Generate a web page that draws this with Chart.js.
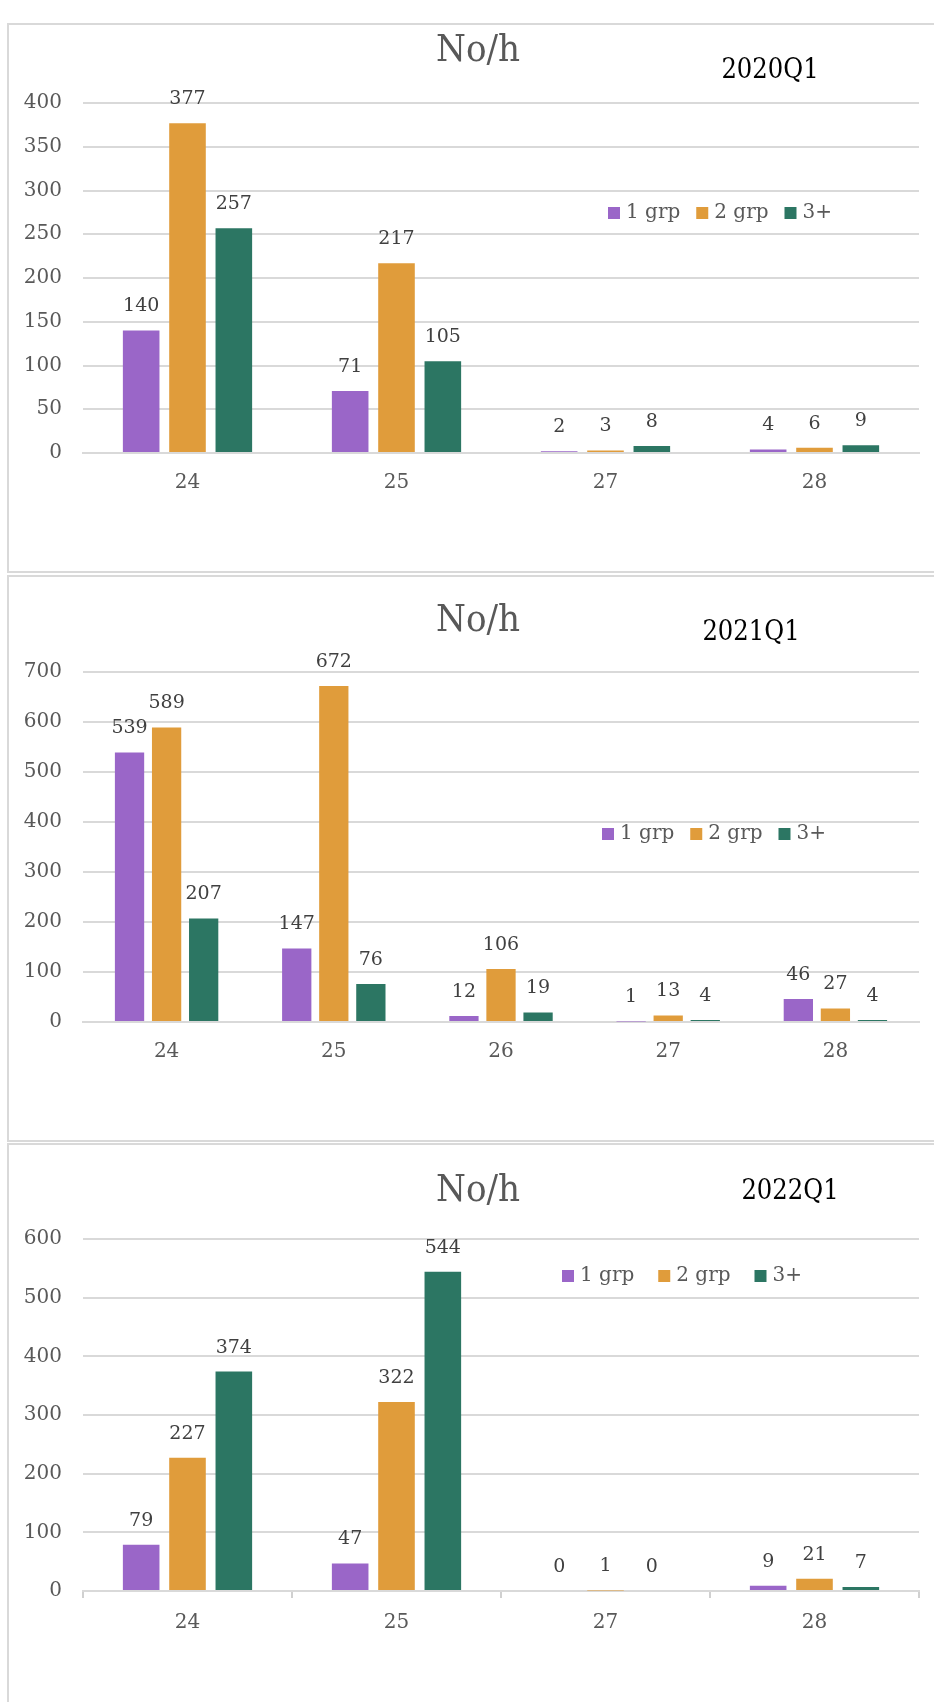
<!DOCTYPE html>
<html>
<head>
<meta charset="utf-8">
<script src="https://cdn.jsdelivr.net/npm/chart.js@4.4.1/dist/chart.umd.min.js"></script>
<style>
  html, body { margin: 0; padding: 0; background: #fff; }
  body { width: 934px; height: 1702px; overflow: hidden; position: relative; }
  .panel { position: absolute; left: 7px; width: 960px; border: 2px solid #d9d9d9; box-sizing: border-box; background: #fff; }
  canvas { position: absolute; left: 0; }
</style>
</head>
<body>
<div class="panel" style="top:23px;height:550px"></div>
<div class="panel" style="top:575px;height:567px"></div>
<div class="panel" style="top:1143px;height:600px"></div>
<canvas id="c2020" width="934" height="548" style="top:24px"></canvas>
<canvas id="c2021" width="934" height="565" style="top:576px"></canvas>
<canvas id="c2022" width="934" height="558" style="top:1144px"></canvas>
<script>
// Series names shared by all three quarters
const seriesNames = ['1 grp', '2 grp', '3+'];
const seriesColors = ['#9a66c8', '#e09c3b', '#2c7663'];

// 2020Q1
const categories2020 = ['24', '25', '27', '28'];
const grp1_2020 = [140, 71, 2, 4];
const grp2_2020 = [377, 217, 3, 6];
const grp3_2020 = [257, 105, 8, 9];

// 2021Q1
const categories2021 = ['24', '25', '26', '27', '28'];
const grp1_2021 = [539, 147, 12, 1, 46];
const grp2_2021 = [589, 672, 106, 13, 27];
const grp3_2021 = [207, 76, 19, 4, 4];

// 2022Q1
const categories2022 = ['24', '25', '27', '28'];
const grp1_2022 = [79, 47, 0, 9];
const grp2_2022 = [227, 322, 1, 21];
const grp3_2022 = [374, 544, 0, 7];

// Value axis ranges
const yMax = [400, 700, 600];
const yStep = [50, 100, 100];

const chartTitle = 'No/h';
const quarterLabels = ['2020Q1', '2021Q1', '2022Q1'];

const LABEL_FONT = "'DejaVu Serif', serif";
const TITLE_FONT = "'DejaVu Serif Condensed', 'DejaVu Serif', serif";
const GRID = '#d9d9d9';

// Value labels above each bar
const barValueLabels = {
  id: 'barValueLabels',
  afterDatasetsDraw(chart, args, opts) {
    const ctx = chart.ctx;
    ctx.save();
    ctx.font = `19px ${LABEL_FONT}`;
    ctx.fillStyle = '#404040';
    ctx.textAlign = 'center';
    ctx.textBaseline = 'middle';
    chart.data.datasets.forEach((ds, i) => {
      const meta = chart.getDatasetMeta(i);
      meta.data.forEach((bar, j) => {
        ctx.fillText(String(ds.data[j]), bar.x, bar.y - opts.offset);
      });
    });
    ctx.restore();
  }
};

// Title, quarter tag and the legend placed inside the plot
const panelDecor = {
  id: 'panelDecor',
  afterDraw(chart, args, opts) {
    const ctx = chart.ctx;
    ctx.save();
    ctx.textBaseline = 'middle';
    ctx.textAlign = 'center';
    ctx.font = `38px ${TITLE_FONT}`;
    ctx.fillStyle = '#595959';
    ctx.fillText(opts.title, opts.titleX, opts.titleY);
    ctx.font = `27px ${TITLE_FONT}`;
    ctx.fillStyle = '#000';
    ctx.fillText(opts.tag, opts.tagX, opts.tagY);

    // legend
    ctx.textAlign = 'left';
    ctx.font = `20px ${LABEL_FONT}`;
    let x = opts.legendX;
    const y = opts.legendY;
    chart.data.datasets.forEach((ds) => {
      ctx.fillStyle = ds.backgroundColor;
      ctx.fillRect(x, y - 6, 12, 12);
      ctx.fillStyle = '#595959';
      ctx.fillText(ds.label, x + 18, y);
      x += 18 + ctx.measureText(ds.label).width + opts.legendGap;
    });
    ctx.restore();
  }
};

function makeChart(id, idx, cats, s1, s2, s3, layout) {
  const values = [s1, s2, s3];
  return new Chart(document.getElementById(id), {
    type: 'bar',
    data: {
      labels: cats,
      datasets: values.map((v, i) => ({
        label: seriesNames[i],
        data: v,
        backgroundColor: seriesColors[i],
        categoryPercentage: 0.665,
        barPercentage: 0.79
      }))
    },
    options: {
      responsive: false,
      animation: false,
      devicePixelRatio: 1,
      layout: { padding: { top: layout.top, right: 15, bottom: layout.bottom, left: 0 } },
      plugins: {
        legend: { display: false },
        tooltip: { enabled: false },
        title: { display: false },
        barValueLabels: { offset: 24 },
        panelDecor: {
          title: chartTitle, titleX: 478, titleY: layout.titleY,
          tag: quarterLabels[idx], tagX: layout.tagX, tagY: layout.tagY,
          legendX: layout.legendX, legendY: layout.legendY, legendGap: layout.legendGap
        }
      },
      scales: {
        x: {
          grid: layout.xTicks
            ? { display: true, drawOnChartArea: false, drawTicks: true, tickLength: 7, color: '#d0d0d0', lineWidth: 2, offset: true }
            : { display: false, drawTicks: false },
          border: { display: true, color: GRID, width: 2 },
          ticks: {
            font: { family: LABEL_FONT, size: 20 },
            color: '#595959',
            padding: layout.xTicks ? 13 : 18
          },
          afterFit(scale) { scale.height = 45; }
        },
        y: {
          min: 0,
          max: yMax[idx],
          grid: { color: GRID, lineWidth: 2, drawTicks: false },
          border: { display: false },
          ticks: {
            stepSize: yStep[idx],
            font: { family: LABEL_FONT, size: 20 },
            color: '#595959',
            padding: 21
          },
          afterFit(scale) { scale.width = 83; }
        }
      }
    },
    plugins: [barValueLabels, panelDecor]
  });
}

makeChart('c2020', 0, categories2020, grp1_2020, grp2_2020, grp3_2020,
  { top: 79, bottom: 74, titleY: 27, tagX: 770, tagY: 47, legendX: 608, legendY: 189, legendGap: 16, xTicks: false });
makeChart('c2021', 1, categories2021, grp1_2021, grp2_2021, grp3_2021,
  { top: 96, bottom: 74, titleY: 45, tagX: 751, tagY: 57, legendX: 602, legendY: 258, legendGap: 16, xTicks: false });
makeChart('c2022', 2, categories2022, grp1_2022, grp2_2022, grp3_2022,
  { top: 95, bottom: 66, titleY: 47, tagX: 790, tagY: 48, legendX: 562, legendY: 132, legendGap: 24, xTicks: true });
</script>
</body>
</html>
